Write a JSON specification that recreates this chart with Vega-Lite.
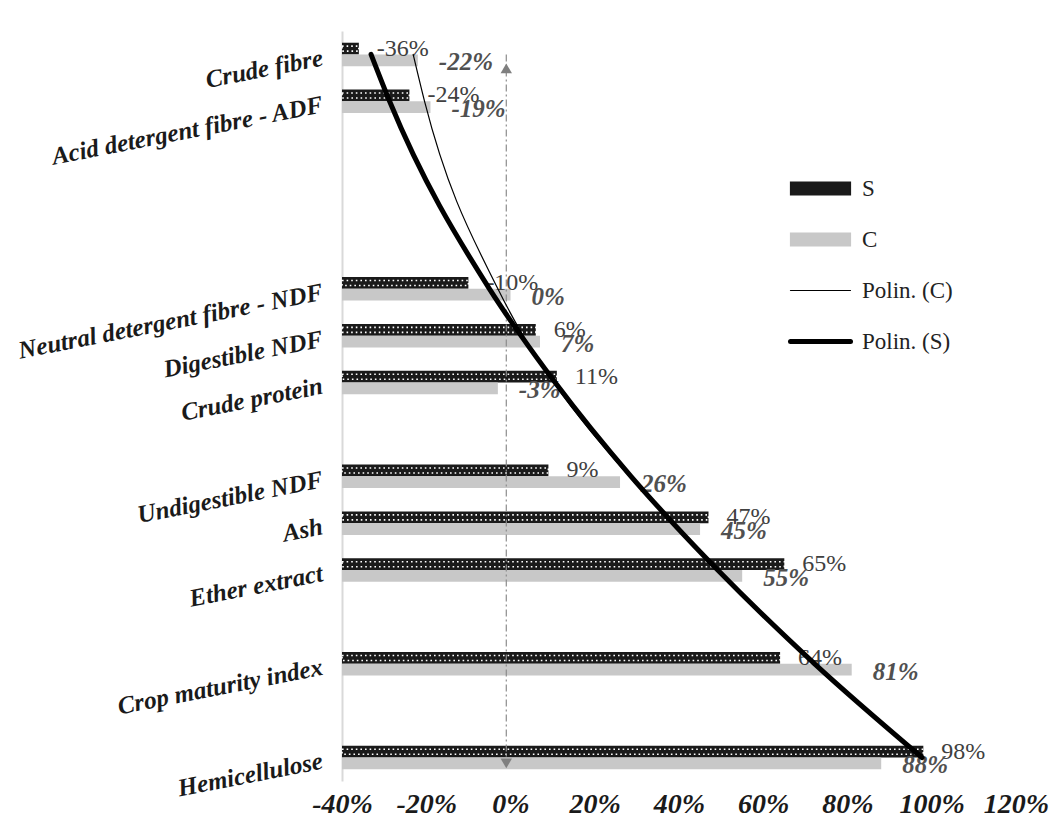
{
  "$schema": "https://vega.github.io/schema/vega-lite/v6.json",
  "autosize": {"type": "none"},
  "width": 674,
  "height": 750,
  "padding": {"left": 342, "top": 31, "right": 43, "bottom": 58},
  "background": "white",
  "config": {
    "font": "Liberation Serif",
    "view": {"stroke": null},
    "locale": {"number": {"decimal": ".", "thousands": ",", "grouping": [3], "currency": ["$", ""], "minus": "-"}}
  },
  "datasets": {
    "bars": [
      {"category": "Crude fibre", "series": "S", "value": -0.36},
      {"category": "Crude fibre", "series": "C", "value": -0.22},
      {"category": "Acid detergent fibre - ADF", "series": "S", "value": -0.24},
      {"category": "Acid detergent fibre - ADF", "series": "C", "value": -0.19},
      {"category": "Neutral detergent fibre - NDF", "series": "S", "value": -0.10},
      {"category": "Neutral detergent fibre - NDF", "series": "C", "value": 0.0},
      {"category": "Digestible NDF", "series": "S", "value": 0.06},
      {"category": "Digestible NDF", "series": "C", "value": 0.07},
      {"category": "Crude protein", "series": "S", "value": 0.11},
      {"category": "Crude protein", "series": "C", "value": -0.03},
      {"category": "Undigestible NDF", "series": "S", "value": 0.09},
      {"category": "Undigestible NDF", "series": "C", "value": 0.26},
      {"category": "Ash", "series": "S", "value": 0.47},
      {"category": "Ash", "series": "C", "value": 0.45},
      {"category": "Ether extract", "series": "S", "value": 0.65},
      {"category": "Ether extract", "series": "C", "value": 0.55},
      {"category": "Crop maturity index", "series": "S", "value": 0.64},
      {"category": "Crop maturity index", "series": "C", "value": 0.81},
      {"category": "Hemicellulose", "series": "S", "value": 0.98},
      {"category": "Hemicellulose", "series": "C", "value": 0.88}
    ],
    "trend": [
      {"category": "Crude fibre", "series": "Polin. (S)", "value": -0.331},
      {"category": "Acid detergent fibre - ADF", "series": "Polin. (S)", "value": -0.287},
      {"category": "Neutral detergent fibre - NDF", "series": "Polin. (S)", "value": -0.05},
      {"category": "Digestible NDF", "series": "Polin. (S)", "value": 0.025},
      {"category": "Crude protein", "series": "Polin. (S)", "value": 0.106},
      {"category": "Undigestible NDF", "series": "Polin. (S)", "value": 0.286},
      {"category": "Ash", "series": "Polin. (S)", "value": 0.386},
      {"category": "Ether extract", "series": "Polin. (S)", "value": 0.492},
      {"category": "Crop maturity index", "series": "Polin. (S)", "value": 0.722},
      {"category": "Hemicellulose", "series": "Polin. (S)", "value": 0.977},
      {"category": "Crude fibre", "series": "Polin. (C)", "value": -0.231},
      {"category": "Acid detergent fibre - ADF", "series": "Polin. (C)", "value": -0.204},
      {"category": "Neutral detergent fibre - NDF", "series": "Polin. (C)", "value": -0.03},
      {"category": "Digestible NDF", "series": "Polin. (C)", "value": 0.03},
      {"category": "Crude protein", "series": "Polin. (C)", "value": 0.103},
      {"category": "Undigestible NDF", "series": "Polin. (C)", "value": 0.282},
      {"category": "Ash", "series": "Polin. (C)", "value": 0.383},
      {"category": "Ether extract", "series": "Polin. (C)", "value": 0.489},
      {"category": "Crop maturity index", "series": "Polin. (C)", "value": 0.72},
      {"category": "Hemicellulose", "series": "Polin. (C)", "value": 0.974}
    ],
    "arrow": [
      {"category": "Crude fibre", "series": "C", "value": -0.01},
      {"category": "Hemicellulose", "series": "C", "value": -0.01}
    ]
  },
  "encoding": {
    "y": {
      "field": "category",
      "type": "nominal",
      "sort": ["Crude fibre", "Acid detergent fibre - ADF", " ", "  ", "   ", "Neutral detergent fibre - NDF", "Digestible NDF", "Crude protein", "    ", "Undigestible NDF", "Ash", "Ether extract", "     ", "Crop maturity index", "      ", "Hemicellulose"],
      "scale": {
        "domain": ["Crude fibre", "Acid detergent fibre - ADF", " ", "  ", "   ", "Neutral detergent fibre - NDF", "Digestible NDF", "Crude protein", "    ", "Undigestible NDF", "Ash", "Ether extract", "     ", "Crop maturity index", "      ", "Hemicellulose"],
        "paddingInner": 0.5,
        "paddingOuter": 0.25
      },
      "axis": {
        "title": null,
        "domainColor": "#d9d9d9",
        "domainWidth": 2,
        "ticks": false,
        "grid": false,
        "labelAngle": -11,
        "labelFont": "Liberation Serif",
        "labelFontStyle": "italic",
        "labelFontWeight": "bold",
        "labelFontSize": 25,
        "labelColor": "#1a1a1a",
        "labelPadding": 20,
        "labelOffset": 3,
        "labelLimit": 400
      }
    }
  },
  "layer": [
    {
      "data": {"name": "bars"},
      "mark": {"type": "bar"},
      "encoding": {
        "x": {
          "field": "value",
          "type": "quantitative",
          "scale": {"domain": [-0.4, 1.2], "nice": false, "zero": false},
          "axis": {
            "title": null,
            "domain": false,
            "ticks": false,
            "grid": false,
            "values": [-0.4, -0.2, 0, 0.2, 0.4, 0.6, 0.8, 1.0, 1.2],
            "format": ".0%",
            "labelOverlap": false,
            "labelFlush": false,
            "labelFont": "Liberation Serif",
            "labelFontStyle": "italic",
            "labelFontWeight": "bold",
            "labelFontSize": 28,
            "labelColor": "#1a1a1a",
            "labelPadding": 9
          }
        },
        "x2": {"datum": -0.4},
        "yOffset": {"field": "series", "type": "nominal", "sort": ["S", "C"], "scale": {"domain": ["S", "C"], "paddingInner": 0, "paddingOuter": 0}},
        "color": {
          "field": "series",
          "type": "nominal",
          "scale": {"domain": ["S", "C", "Polin. (C)", "Polin. (S)"], "range": ["#1a1a1a", "#c8c8c8", "#000000", "#000000"]},
          "legend": {
            "title": null,
            "orient": "none",
            "legendX": 467,
            "legendY": 146,
            "padding": 0,
            "symbolSize": 2304,
            "rowPadding": 27,
            "labelOffset": 30,
            "labelFont": "Liberation Serif",
            "labelFontSize": 23,
            "labelColor": "#222222",
            "encode": {
              "symbols": {
                "update": {
                  "shape": {"signal": "datum.value === 'S' || datum.value === 'C' ? 'M-1.25,-0.27H1.25V0.27H-1.25Z' : 'M-1.25,0H1.25'"},
                  "fill": {"signal": "datum.value === 'S' ? '#1a1a1a' : datum.value === 'C' ? '#c8c8c8' : 'transparent'"},
                  "stroke": {"signal": "datum.value === 'S' || datum.value === 'C' ? 'transparent' : '#000000'"},
                  "strokeWidth": {"signal": "datum.value === 'Polin. (S)' ? 5 : 1.2"},
                  "strokeCap": {"value": "round"},
                  "opacity": {"value": 1}
                }
              }
            }
          }
        }
      }
    },
    {
      "data": {"name": "bars"},
      "transform": [{"filter": "datum.series === 'S'"}],
      "mark": {"type": "bar", "height": 5, "fillOpacity": 0, "stroke": "#ffffff", "strokeWidth": 1.6, "strokeDash": [1.6, 3]},
      "encoding": {
        "x": {"field": "value", "type": "quantitative"},
        "x2": {"datum": -0.4},
        "yOffset": {"field": "series", "type": "nominal", "sort": ["S", "C"], "scale": {"domain": ["S", "C"], "paddingInner": 0, "paddingOuter": 0}}
      }
    },
    {
      "data": {"name": "arrow"},
      "mark": {"type": "line", "color": "#8c8c8c", "strokeWidth": 1.2, "strokeDash": [7, 3, 2, 3]},
      "encoding": {
        "x": {"field": "value", "type": "quantitative"}
      }
    },
    {
      "data": {"name": "arrow"},
      "transform": [{"filter": "datum.category === 'Crude fibre'"}],
      "mark": {"type": "point", "shape": "triangle-up", "filled": true, "color": "#7f7f7f", "size": 130, "opacity": 1, "yOffset": 14},
      "encoding": {
        "x": {"field": "value", "type": "quantitative"}
      }
    },
    {
      "data": {"name": "arrow"},
      "transform": [{"filter": "datum.category === 'Hemicellulose'"}],
      "mark": {"type": "point", "shape": "triangle-down", "filled": true, "color": "#7f7f7f", "size": 130, "opacity": 1},
      "encoding": {
        "x": {"field": "value", "type": "quantitative"},
        "yOffset": {"field": "series", "type": "nominal", "sort": ["S", "C"], "scale": {"domain": ["S", "C"], "paddingInner": 0, "paddingOuter": 0}}
      }
    },
    {
      "data": {"name": "bars"},
      "transform": [{"filter": "datum.series === 'S'"}],
      "mark": {"type": "text", "align": "left", "baseline": "middle", "dx": 18, "font": "Liberation Serif", "fontSize": 24, "color": "#404040"},
      "encoding": {
        "x": {"field": "value", "type": "quantitative"},
        "yOffset": {"field": "series", "type": "nominal", "sort": ["S", "C"], "scale": {"domain": ["S", "C"], "paddingInner": 0, "paddingOuter": 0}},
        "text": {"field": "value", "type": "quantitative", "format": ".0%"}
      }
    },
    {
      "data": {"name": "bars"},
      "transform": [{"filter": "datum.series === 'C'"}],
      "mark": {"type": "text", "align": "left", "baseline": "middle", "dx": 21, "dy": 2, "font": "Liberation Serif", "fontStyle": "italic", "fontWeight": "bold", "fontSize": 25, "color": "#505050"},
      "encoding": {
        "x": {"field": "value", "type": "quantitative"},
        "yOffset": {"field": "series", "type": "nominal", "sort": ["S", "C"], "scale": {"domain": ["S", "C"], "paddingInner": 0, "paddingOuter": 0}},
        "text": {"field": "value", "type": "quantitative", "format": ".0%"}
      }
    },
    {
      "data": {"name": "trend"},
      "mark": {"type": "line", "interpolate": "monotone", "strokeCap": "round"},
      "encoding": {
        "x": {"field": "value", "type": "quantitative"},
        "color": {"field": "series", "type": "nominal"},
        "size": {"field": "series", "type": "ordinal", "scale": {"domain": ["Polin. (C)", "Polin. (S)"], "range": [1.2, 5]}, "legend": null}
      }
    }
  ]
}
